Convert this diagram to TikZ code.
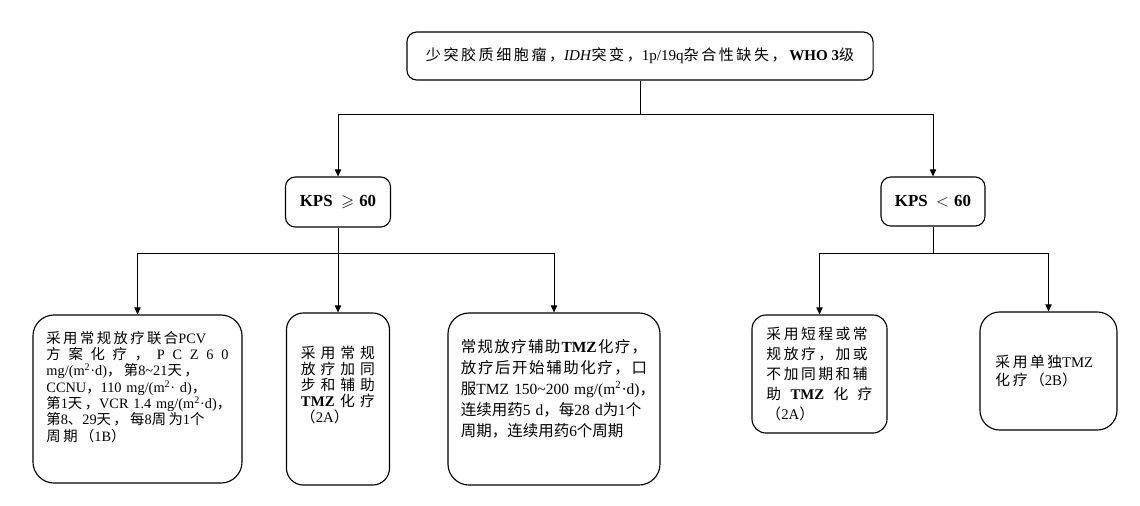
\documentclass[tikz,border=0pt]{standalone}
\usepackage{amssymb}
\usepackage{fontspec}
\setmainfont{Liberation Serif}
\newfontfamily\cjkgrid[LetterSpace=17]{Noto Sans CJK SC}
\newfontfamily\cjkplain{Noto Sans CJK SC}
\let\cjk\cjkgrid
\usetikzlibrary{arrows.meta,positioning}

% Chinese characters are set in the CJK family
\newXeTeXintercharclass\cjkclass
\newcount\cjkcode
\newcommand\cjkrange[2]{%
  \cjkcode=#1\relax
  \loop
    \XeTeXcharclass\cjkcode=\cjkclass
    \ifnum\cjkcode<#2\relax
    \advance\cjkcode by 1\relax
  \repeat}
\cjkrange{"3000}{"303F}
\cjkrange{"4E00}{"9FFF}
\cjkrange{"FF00}{"FFEF}
\XeTeXinterchartoks 0 \cjkclass = {\begingroup\cjk}
\XeTeXinterchartoks 4095 \cjkclass = {\begingroup\cjk}
\XeTeXinterchartoks \cjkclass 0 = {\endgroup}
\XeTeXinterchartoks \cjkclass 4095 = {\endgroup}
\XeTeXinterchartokenstate=1

\begin{document}
\begin{tikzpicture}[x=0.025cm, y=-0.025cm,
    box/.style={rectangle, draw, line width=0.8pt, inner sep=0pt, align=left},
    kps/.style={box, rounded corners=7pt, align=center,
                font=\bfseries\fontsize{12}{14}\selectfont},
    link/.style={line width=0.6pt},
    arr/.style={link, -{Triangle[length=5pt, width=4.5pt]}}]
    \useasboundingbox (0,0) rectangle (1140,506);

    % Diagnosis
    \node[box, rounded corners=7pt, minimum width=11.65cm, minimum height=1.2cm,
          align=center, font=\fontsize{10.7}{13}\selectfont] (who3) at (640,56)
        {少突胶质细胞瘤，\textit{IDH}突变，1p/19q杂合性缺失，\textbf{WHO 3}级};

    % KPS
    \node[kps, minimum width=2.625cm, minimum height=1.25cm] (kpsHi) at (338,202)
        {KPS\hspace{0.5em}$\geqslant$\hspace{0.3em}60};
    \node[kps, minimum width=2.6cm, minimum height=1.225cm] (kpsLo) at (933,201.5)
        {KPS\hspace{0.5em}$<$\hspace{0.3em}60};

    % Treatments, KPS >= 60
    \node[box, rounded corners=15pt, minimum width=5.225cm, minimum height=4.2cm,
          text width=4.55cm, text depth=88pt, font=\fontsize{10.2}{11.6}\selectfont]
          (pcv) at (137.5,399) {
        采用常规放疗联合PCV\\
        方\hfill 案\hfill 化\hfill 疗\hfill ，\hfill P\hfill C\hfill Z\hfill 6\hfill 0\\
        mg/(m\textsuperscript{2}·d)，第8\textasciitilde 21天，\\
        CCNU，110~mg/(m\textsuperscript{2}·~d)，\\
        第1天，VCR~1.4~mg/(m\textsuperscript{2}·d)，\\
        第8、29天，每8周为1个\\
        周期（1B）};
    \node[box, rounded corners=12pt, minimum width=2.575cm, minimum height=4.3cm,
          text width=1.85cm, text depth=66pt, font=\fontsize{10.5}{11.4}\selectfont]
          (tmzConc) at (338,399) {
        采\hfill 用\hfill 常\hfill 规\\
        放\hfill 疗\hfill 加\hfill 同\\
        步\hfill 和\hfill 辅\hfill 助\\
        \textbf{TMZ}\hfill 化\hfill 疗\\
        （2A）};
    \node[box, rounded corners=15pt, minimum width=5.3cm, minimum height=4.3cm,
          text width=4.65cm, text depth=76pt,
          font=\let\cjk\cjkplain\fontsize{11}{15}\selectfont] (tmzAdj) at (554,399) {
        常\hfill 规\hfill 放\hfill 疗\hfill 辅\hfill 助\hfill \textbf{TMZ}\hfill 化\hfill 疗\hfill ，\\
        放\hfill 疗\hfill 后\hfill 开\hfill 始\hfill 辅\hfill 助\hfill 化\hfill 疗\hfill ，\hfill 口\\
        服TMZ~150\textasciitilde 200~mg/(m\textsuperscript{2}·d)，\\
        连续用药5~d，每28~d为1个\\
        周期，连续用药6个周期};

    % Treatments, KPS < 60
    \node[box, rounded corners=10pt, minimum width=3.375cm, minimum height=2.95cm,
          text width=2.65cm, font=\fontsize{10.5}{14.2}\selectfont] (rtShort) at (819.5,374) {
        采用短程或常\\
        规放疗，加或\\
        不加同期和辅\\
        助\hfill \textbf{TMZ}\hfill 化\hfill 疗\\
        （2A）};
    \node[box, rounded corners=14pt, minimum width=3.425cm, minimum height=2.95cm,
          text width=2.65cm, font=\fontsize{10.5}{12.8}\selectfont] (tmzAlone) at (1048.5,371) {
        采用单独TMZ\\
        化疗（2B）};

    % Connections
    \coordinate (forkTop) at (640,114);
    \coordinate (forkHi) at (338,253);
    \coordinate (forkLo) at (933,253);
    \draw[link] (who3.south) -- (forkTop);
    \draw[arr] (forkTop) -| (kpsHi.north);
    \draw[arr] (forkTop) -| (kpsLo.north);
    \draw[link] (kpsHi.south) -- (forkHi);
    \draw[arr] (forkHi) -| (pcv.north);
    \draw[arr] (forkHi) -| (tmzConc.north);
    \draw[arr] (forkHi) -| (tmzAdj.north);
    \draw[link] (kpsLo.south) -- (forkLo);
    \draw[arr] (forkLo) -| (rtShort.north);
    \draw[arr] (forkLo) -| (tmzAlone.north);
\end{tikzpicture}
\end{document}
